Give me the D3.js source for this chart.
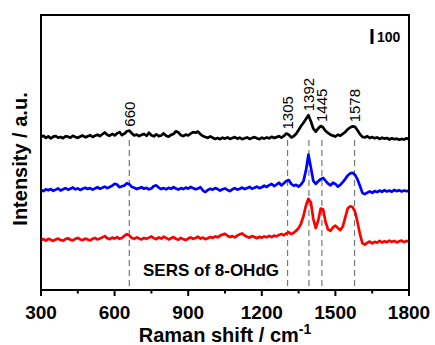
<!DOCTYPE html>
<html>
<head>
<meta charset="utf-8">
<script src="https://cdn.jsdelivr.net/npm/d3@7"></script>
<style>
  body { margin: 0; background: #fff; }
  svg { font-family: Arial, "Liberation Sans", sans-serif; }
</style>
</head>
<body>
<svg id="chart" width="435" height="345"></svg>
<script>
// Raman shift grid, 300..1800 cm-1 every 10
var shift = [300,310,320,330,340,350,360,370,380,390,400,410,420,430,440,450,460,470,480,490,
  500,510,520,530,540,550,560,570,580,590,600,610,620,630,640,650,660,670,680,690,
  700,710,720,730,740,750,760,770,780,790,800,810,820,830,840,850,860,870,880,890,
  900,910,920,930,940,950,960,970,980,990,1000,1010,1020,1030,1040,1050,1060,1070,1080,1090,
  1100,1110,1120,1130,1140,1150,1160,1170,1180,1190,1200,1210,1220,1230,1240,1250,1260,1270,1280,1290,
  1300,1310,1320,1330,1340,1350,1360,1370,1380,1390,1400,1410,1420,1430,1440,1450,1460,1470,1480,1490,
  1500,1510,1520,1530,1540,1550,1560,1570,1580,1590,1600,1610,1620,1630,1640,1650,1660,1670,1680,1690,
  1700,1710,1720,1730,1740,1750,1760,1770,1780,1790,1800];

// intensities (a.u., relative to each trace baseline)
var black = [0,8,-6,4,-10,2,6,-4,0,-8,5,2,-5,8,0,-6,3,10,-2,4,
  12,0,8,15,6,18,30,14,8,20,10,24,32,12,22,38,42,25,10,16,
  6,14,20,8,28,12,4,18,6,10,24,8,2,14,20,38,30,12,6,16,
  10,22,32,28,36,18,6,0,-6,4,-5,-13,-7,-15,-5,-11,-3,-13,-7,-1,
  -11,-5,-15,-9,-3,-13,-7,-1,-9,-15,-5,-11,-3,-9,1,-7,-1,5,-5,7,
  23,15,-3,5,21,47,73,95,120,145,105,55,35,57,73,63,40,27,15,9,
  3,15,9,21,33,51,63,71,67,45,19,1,-3,5,-7,-1,-9,-3,-13,-5,
  -11,-7,-17,-9,-15,-11,-19,-13,-17,-9,-15];

var blue = [0,-8,4,-2,6,-6,2,10,-4,4,12,2,8,16,4,10,0,8,14,6,
  12,2,10,18,8,14,22,12,20,28,40,36,18,24,30,44,38,20,14,6,
  12,18,8,14,4,10,26,30,16,6,12,4,14,8,18,10,2,12,6,16,
  8,20,12,4,10,18,-4,-14,0,8,2,12,6,-4,4,10,0,-8,4,12,
  2,8,16,6,12,20,8,14,22,12,18,28,20,32,40,26,36,48,30,44,
  60,66,40,28,34,22,36,60,130,235,150,60,40,58,72,80,60,42,30,48,
  40,22,34,52,72,96,110,114,100,70,28,-20,-28,-18,-10,-20,-8,-14,-4,-12,
  -2,-10,-4,-12,0,-8,-2,-10,-4,-8,-6];

var red = [0,6,-4,8,2,-6,4,10,0,-4,6,12,2,-2,8,14,4,0,10,4,
  -2,8,14,4,10,18,26,12,6,16,10,20,8,14,28,40,30,14,8,18,
  10,4,14,8,16,24,12,6,18,10,22,14,4,12,20,8,2,14,6,0,
  10,18,8,14,22,10,16,6,12,20,14,24,18,30,36,42,28,20,26,18,
  30,38,44,30,22,16,26,20,12,22,16,24,18,28,20,30,24,34,40,32,
  44,52,40,48,62,80,110,160,230,275,250,140,80,130,210,205,120,70,62,84,
  96,80,66,90,150,210,225,220,190,120,40,-20,-30,-18,-10,-22,-12,-18,-6,-16,
  -8,-14,-4,-12,-6,-16,-8,-4,-14,-6,-10];

var seriesColors = ["#000000", "#0000ff", "#ff0000"];
var offsets = [1020, 667, 333];
var peaks = [660, 1305, 1392, 1445, 1578];
var xTicks = [300, 600, 900, 1200, 1500, 1800];
var xMinor = [450, 750, 1050, 1350, 1650];
var scaleBar = 100;

var svg = d3.select("#chart");
var pLeft = 41, pRight = 409, pTop = 15, pBottom = 290;

var x = d3.scaleLinear().domain([300, 1800]).range([pLeft, pRight]);
var y = d3.scaleLinear().domain([0, 1833]).range([pBottom, pTop]);

// dashed peak markers
var dashTop = 1000;
svg.append("g").selectAll("line")
  .data(peaks).enter().append("line")
  .attr("x1", function (d) { return x(d); })
  .attr("x2", function (d) { return x(d); })
  .attr("y1", y(dashTop))
  .attr("y2", pBottom)
  .attr("stroke", "#777")
  .attr("stroke-width", 1.2)
  .attr("stroke-dasharray", "6,4");

var line = d3.line()
  .x(function (d) { return x(d[0]); })
  .y(function (d) { return y(d[1]); });

[black, blue, red].forEach(function (s, k) {
  var pts = shift.map(function (v, i) { return [v, s[i] + offsets[k]]; });
  svg.append("path")
    .datum(pts)
    .attr("d", line)
    .attr("fill", "none")
    .attr("stroke", seriesColors[k])
    .attr("stroke-width", 2.7)
    .attr("stroke-linejoin", "round");
});

// peak labels above the black trace
function blackNear(p) {
  var best = -1e9;
  shift.forEach(function (v, i) {
    if (Math.abs(v - p) <= 10) best = Math.max(best, black[i]);
  });
  return best + offsets[0];
}
svg.append("g").selectAll("text")
  .data(peaks).enter().append("text")
  .attr("transform", function (d) {
    return "translate(" + x(d) + "," + (y(blackNear(d)) - 4) + ") rotate(-90)";
  })
  .attr("dy", "0.35em")
  .attr("font-size", 15)
  .text(function (d) { return d; });

// frame
svg.append("rect")
  .attr("x", pLeft).attr("y", pTop)
  .attr("width", pRight - pLeft).attr("height", pBottom - pTop)
  .attr("fill", "none").attr("stroke", "#000").attr("stroke-width", 2);

// bottom axis
var axis = svg.append("g").attr("transform", "translate(0," + pBottom + ")");
axis.selectAll(".major").data(xTicks).enter().append("line")
  .attr("x1", function (d) { return x(d); }).attr("x2", function (d) { return x(d); })
  .attr("y1", 0).attr("y2", 6).attr("stroke", "#000").attr("stroke-width", 2);
axis.selectAll(".minor").data(xMinor).enter().append("line")
  .attr("x1", function (d) { return x(d); }).attr("x2", function (d) { return x(d); })
  .attr("y1", 0).attr("y2", 3.5).attr("stroke", "#000").attr("stroke-width", 2);
axis.selectAll("text").data(xTicks).enter().append("text")
  .attr("x", function (d) { return x(d); })
  .attr("y", 29)
  .attr("text-anchor", "middle")
  .attr("font-size", 19).attr("font-weight", "bold")
  .text(function (d) { return d; });

var xt = svg.append("text")
  .attr("x", 225).attr("y", 342)
  .attr("text-anchor", "middle")
  .attr("font-size", 20).attr("font-weight", "bold");
xt.append("tspan").text("Raman shift / cm");
xt.append("tspan").attr("dy", -8).attr("font-size", 14).text("-1");

svg.append("text")
  .attr("transform", "translate(27,159) rotate(-90)")
  .attr("text-anchor", "middle")
  .attr("font-size", 20).attr("font-weight", "bold")
  .text("Intensity / a.u.");

svg.append("text")
  .attr("x", 143).attr("y", 276)
  .attr("font-size", 17).attr("font-weight", "bold")
  .text("SERS of 8-OHdG");

// scale bar
var barBottom = 44;
svg.append("line")
  .attr("x1", 372).attr("x2", 372)
  .attr("y1", barBottom).attr("y2", barBottom - (y(0) - y(scaleBar)))
  .attr("stroke", "#000").attr("stroke-width", 3);
svg.append("text")
  .attr("x", 377).attr("y", 42)
  .attr("font-size", 14).attr("font-weight", "bold")
  .text(scaleBar);
</script>
</body>
</html>
